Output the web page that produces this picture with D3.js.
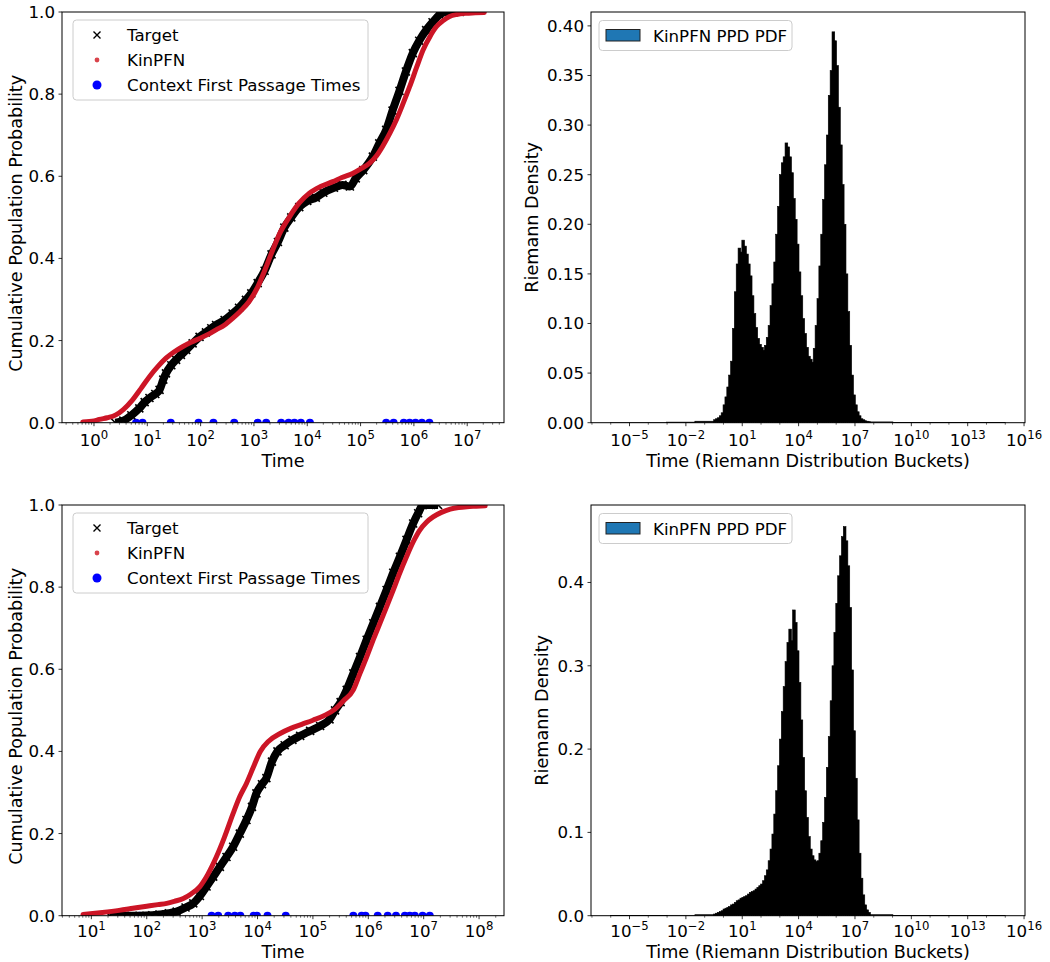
<!DOCTYPE html>
<html><head><meta charset="utf-8">
<script src="https://cdn.jsdelivr.net/npm/d3@7"></script>
<style>
body{margin:0;background:#fff}
svg{display:block}
text{font-family:"DejaVu Sans",Verdana,sans-serif;fill:#000}
</style>
</head><body>
<svg id="chart" width="1050" height="962"></svg>
<script>
// ===================== DATA =====================
// CDF panels: [log10(time), cumulative probability]
const tlTarget = [[0.40,0.0],[0.55,0.005],[0.70,0.018],[0.85,0.035],[0.95,0.05],[1.04,0.06],[1.15,0.07],[1.23,0.08],[1.30,0.105],[1.35,0.12],[1.45,0.14],[1.54,0.153],[1.63,0.165],[1.73,0.177],[1.85,0.193],[1.98,0.209],[2.10,0.22],[2.20,0.23],[2.29,0.238],[2.45,0.25],[2.60,0.266],[2.72,0.28],[2.85,0.299],[2.95,0.315],[3.07,0.34],[3.20,0.37],[3.33,0.41],[3.45,0.44],[3.57,0.475],[3.70,0.50],[3.85,0.525],[4.00,0.54],[4.16,0.548],[4.30,0.56],[4.50,0.572],[4.66,0.579],[4.80,0.575],[4.91,0.595],[5.05,0.615],[5.23,0.648],[5.35,0.68],[5.48,0.713],[5.60,0.76],[5.73,0.808],[5.85,0.855],[5.98,0.90],[6.10,0.93],[6.23,0.956],[6.35,0.975],[6.48,0.993],[6.60,1.0],[6.75,1.0],[6.86,1.0]];
const tlKinPFN = [[-0.21,0.002],[0.0,0.004],[0.10,0.008],[0.25,0.012],[0.41,0.019],[0.55,0.032],[0.72,0.055],[0.88,0.083],[1.04,0.112],[1.20,0.137],[1.35,0.157],[1.50,0.172],[1.66,0.185],[1.82,0.196],[1.98,0.205],[2.14,0.215],[2.29,0.226],[2.45,0.238],[2.60,0.254],[2.75,0.272],[2.91,0.295],[3.07,0.33],[3.20,0.37],[3.35,0.42],[3.50,0.465],[3.67,0.502],[3.85,0.535],[4.04,0.559],[4.25,0.575],[4.48,0.587],[4.65,0.597],[4.85,0.607],[5.00,0.618],[5.17,0.632],[5.30,0.65],[5.41,0.672],[5.55,0.705],[5.67,0.737],[5.80,0.778],[5.92,0.818],[6.05,0.865],[6.17,0.907],[6.30,0.94],[6.42,0.964],[6.55,0.979],[6.67,0.989],[6.80,0.994],[6.98,0.997],[7.15,0.998],[7.32,0.999]];
const tlContext = [0.79,0.91,1.44,1.96,2.24,2.63,3.07,3.23,3.51,3.65,3.76,3.88,4.05,5.48,5.62,5.81,5.92,6.03,6.15,6.29];

const blTarget = [[1.33,0.0],[1.60,0.0],[1.87,0.0],[2.10,0.001],[2.23,0.003],[2.40,0.006],[2.54,0.01],[2.70,0.02],[2.84,0.03],[2.96,0.048],[3.08,0.071],[3.20,0.095],[3.32,0.119],[3.44,0.143],[3.56,0.168],[3.68,0.20],[3.80,0.233],[3.90,0.265],[3.98,0.298],[4.08,0.32],[4.16,0.335],[4.26,0.375],[4.36,0.40],[4.49,0.415],[4.63,0.428],[4.77,0.438],[4.95,0.45],[5.13,0.462],[5.30,0.478],[5.40,0.50],[5.50,0.52],[5.61,0.55],[5.73,0.59],[5.85,0.63],[5.97,0.672],[6.09,0.712],[6.21,0.752],[6.33,0.793],[6.45,0.835],[6.57,0.874],[6.69,0.915],[6.81,0.955],[6.90,0.98],[6.99,1.0],[7.10,1.0],[7.26,1.0]];
const blKinPFN = [[0.85,0.003],[1.20,0.008],[1.50,0.013],[1.75,0.018],[2.00,0.023],[2.20,0.027],[2.36,0.030],[2.50,0.035],[2.66,0.042],[2.80,0.053],[2.96,0.071],[3.10,0.10],[3.26,0.144],[3.40,0.19],[3.56,0.249],[3.68,0.29],[3.80,0.322],[3.92,0.36],[4.05,0.40],[4.20,0.425],[4.40,0.443],[4.60,0.456],[4.80,0.466],[5.00,0.476],[5.20,0.487],[5.40,0.503],[5.55,0.523],[5.73,0.55],[5.85,0.59],[5.97,0.63],[6.09,0.672],[6.21,0.712],[6.33,0.752],[6.45,0.793],[6.57,0.835],[6.69,0.874],[6.81,0.91],[6.93,0.939],[7.05,0.958],[7.17,0.971],[7.32,0.982],[7.48,0.99],[7.63,0.994],[7.78,0.996],[7.95,0.997],[8.11,0.998]];
const blContext = [1.87,3.17,3.29,3.47,3.59,3.69,3.93,3.99,4.18,4.51,5.73,5.88,5.95,6.17,6.35,6.50,6.66,6.75,6.84,6.98,7.11];

// Riemann buckets: core buckets start at log10 = -0.5, width 0.1 decade
const coreStartLog = -0.5, coreStepLog = 0.1;
const trDensity = [
 0.003,0.004,0.005,0.007,0.010,0.018,0.026,0.036,0.048,0.062,
 0.095,0.132,0.160,0.176,0.172,0.184,0.178,0.170,0.160,0.148,
 0.128,0.110,0.096,0.085,0.079,0.076,0.073,0.078,0.086,0.098,
 0.118,0.140,0.162,0.190,0.218,0.250,0.262,0.268,0.282,0.278,
 0.268,0.252,0.226,0.205,0.180,0.152,0.128,0.105,0.090,0.076,
 0.067,0.064,0.061,0.075,0.098,0.125,0.158,0.190,0.225,0.260,
 0.290,0.330,0.355,0.394,0.385,0.360,0.318,0.280,0.240,0.200,
 0.150,0.112,0.078,0.048,0.028,0.018,0.011,0.007,0.004,0.003,
 0.002,0.0015,0.001];
const trTails = [[-6,-3,0.0002],[-3,-1.5,0.0006],[-1.5,-0.5,0.0015],[7.8,9,0.0008],[9,12,0.0003],[12,15,0.0001]];
const brDensity = [
 0.002,0.003,0.004,0.005,0.006,0.008,0.009,0.010,0.011,0.013,
 0.014,0.016,0.018,0.019,0.021,0.022,0.023,0.024,0.026,0.028,
 0.029,0.030,0.032,0.034,0.036,0.038,0.042,0.048,0.055,0.066,
 0.080,0.098,0.122,0.150,0.180,0.212,0.245,0.275,0.305,0.328,
 0.344,0.330,0.367,0.352,0.318,0.280,0.235,0.190,0.150,0.118,
 0.095,0.080,0.072,0.067,0.065,0.066,0.075,0.090,0.112,0.142,
 0.178,0.215,0.258,0.300,0.340,0.375,0.408,0.432,0.455,0.467,
 0.450,0.420,0.370,0.295,0.222,0.165,0.115,0.075,0.045,0.025,
 0.013,0.007,0.004];
const brTails = [[-6,-3,0.0002],[-3,-1.5,0.0005],[-1.5,-0.5,0.0012],[7.8,9,0.0012],[9,12,0.0003],[12,15,0.0001]];

// tick labels
const tlXExps = [0,1,2,3,4,5,6,7];
const blXExps = [1,2,3,4,5,6,7,8];
const histXExps = [-5,-2,1,4,7,10,13,16];
const cdfYTicks = [0,0.2,0.4,0.6,0.8,1.0];
const trYTicks = [0,0.05,0.10,0.15,0.20,0.25,0.30,0.35,0.40];
const brYTicks = [0,0.1,0.2,0.3,0.4];
const cdfLegend = ["Target","KinPFN","Context First Passage Times"];
const histLegend = "KinPFN PPD PDF";

// ===================== DRAWING =====================
const FS = 16.67, LFS = 17.6;
const svg = d3.select("#chart");
const defs = svg.append("defs");
const P = v => Math.pow(10, v);
const RED = "#cc1526", BLUE = "#0000ff";

function panel(o){
  const xs = d3.scaleLog().domain([P(o.xdom[0]), P(o.xdom[1])]).range([o.x0, o.x1]);
  const ys = d3.scaleLinear().domain(o.ydom).range([o.y1, o.y0]);
  defs.append("clipPath").attr("id", o.id).append("rect")
    .attr("x", o.x0).attr("y", o.y0).attr("width", o.x1 - o.x0).attr("height", o.y1 - o.y0);
  const g = svg.append("g");
  const plot = g.append("g").attr("clip-path", `url(#${o.id})`);
  return {xs, ys, g, plot};
}

function axes(o, a){
  const g = a.g;
  const lo = Math.floor(o.xdom[0]), hi = Math.ceil(o.xdom[1]);
  for (let e = lo; e <= hi; e++){
    const subs = o.minorDecades ? [1] : [2,3,4,5,6,7,8,9];
    subs.forEach(s => {
      const v = s * P(e);
      const lv = Math.log10(v);
      if (lv < o.xdom[0] || lv > o.xdom[1]) return;
      if (o.minorDecades && o.xExps.includes(e)) return;
      const x = a.xs(v);
      g.append("line").attr("x1", x).attr("x2", x).attr("y1", o.y1).attr("y2", o.y1 + 2)
        .attr("stroke", "#000").attr("stroke-width", 0.6);
    });
  }
  o.xExps.forEach(e => {
    const x = a.xs(P(e));
    g.append("line").attr("x1", x).attr("x2", x).attr("y1", o.y1).attr("y2", o.y1 + 3.5)
      .attr("stroke", "#000").attr("stroke-width", 0.8);
    const t = g.append("text").attr("x", x).attr("y", o.y1 + o.xTickDy).attr("text-anchor", "middle")
      .attr("font-size", FS);
    t.append("tspan").text("10");
    t.append("tspan").attr("dy", -7).attr("font-size", 11.7).text(e < 0 ? "\u2212" + (-e) : String(e));
  });
  o.yTicks.forEach(v => {
    const y = a.ys(v);
    g.append("line").attr("x1", o.x0 - 3.5).attr("x2", o.x0).attr("y1", y).attr("y2", y)
      .attr("stroke", "#000").attr("stroke-width", 0.8);
    g.append("text").attr("x", o.x0 - 7).attr("y", y).attr("dy", "0.36em").attr("text-anchor", "end")
      .attr("font-size", FS).text(d3.format(o.yFmt)(v));
  });
  g.append("text").attr("x", (o.x0 + o.x1) / 2).attr("y", o.y1 + o.xLabelDy).attr("text-anchor", "middle")
    .attr("font-size", LFS).text(o.xLabel);
  g.append("text").attr("transform", `translate(${o.yLabelX},${(o.y0 + o.y1) / 2 + o.yLabelShift}) rotate(-90)`)
    .attr("text-anchor", "middle").attr("font-size", LFS).text(o.yLabel);
  g.append("rect").attr("x", o.x0).attr("y", o.y0).attr("width", o.x1 - o.x0).attr("height", o.y1 - o.y0)
    .attr("fill", "none").attr("stroke", "#000").attr("stroke-width", 1);
}

function xMark(sel, size){
  const s = size / 2;
  return sel.append("path").attr("d", `M${-s},${-s}L${s},${s}M${-s},${s}L${s},${-s}`)
    .attr("stroke", "#000").attr("stroke-width", 1.6).attr("fill", "none");
}

function legendBox(g, x, y, w, h){
  g.append("rect").attr("x", x).attr("y", y).attr("width", w).attr("height", h).attr("rx", 3.5)
    .attr("fill", "#fff").attr("fill-opacity", 0.8).attr("stroke", "#cccccc").attr("stroke-width", 1);
}

function cdfPanel(o, target, kin, ctx){
  const a = panel(o);
  const line = d3.line().x(d => a.xs(P(d[0]))).y(d => a.ys(d[1])).curve(d3.curveMonotoneX);
  a.plot.selectAll("circle.ctx").data(ctx).join("circle").attr("class", "ctx")
    .attr("cx", d => a.xs(P(d))).attr("cy", a.ys(0)).attr("r", 4).attr("fill", BLUE);
  a.plot.append("path").attr("d", line(target)).attr("fill", "none").attr("stroke", "#000")
    .attr("stroke-width", 8).attr("stroke-linejoin", "round");
  target.forEach(d => {
    xMark(a.plot.append("g").attr("transform", `translate(${a.xs(P(d[0]))},${a.ys(d[1])})`), 8);
  });
  a.plot.append("path").attr("d", line(kin)).attr("fill", "none").attr("stroke", RED)
    .attr("stroke-width", 5).attr("stroke-linecap", "round").attr("stroke-linejoin", "round");
  axes(o, a);
  const lx = o.x0 + 11, ly = o.y0 + 8;
  legendBox(a.g, lx, ly, 295, 80);
  xMark(a.g.append("g").attr("transform", `translate(${lx + 24},${ly + 15})`), 7).attr("stroke-width", 1.4);
  a.g.append("circle").attr("cx", lx + 24).attr("cy", ly + 40).attr("r", 2.4).attr("fill", "#d9434b");
  a.g.append("circle").attr("cx", lx + 24).attr("cy", ly + 65).attr("r", 4.5).attr("fill", BLUE);
  cdfLegend.forEach((t, i) => {
    a.g.append("text").attr("x", lx + 54).attr("y", ly + 15 + 25 * i).attr("dy", "0.36em")
      .attr("font-size", FS).text(t);
  });
}

function histPanel(o, dens, tails){
  const a = panel(o);
  const bins = dens.map((d, i) => ({x0: coreStartLog + i * coreStepLog, x1: coreStartLog + (i + 1) * coreStepLog, y: d}))
    .concat(tails.map(t => ({x0: t[0], x1: t[1], y: t[2]})));
  a.plot.selectAll("rect.bar").data(bins).join("rect").attr("class", "bar")
    .attr("x", d => a.xs(P(d.x0)) - 0.4)
    .attr("width", d => a.xs(P(d.x1)) - a.xs(P(d.x0)) + 0.8)
    .attr("y", d => a.ys(d.y))
    .attr("height", d => a.ys(0) - a.ys(d.y))
    .attr("fill", "#000").attr("stroke", "#000").attr("stroke-width", 0.6);
  axes(o, a);
  const lx = o.x0 + 8, ly = o.y0 + 8.5;
  legendBox(a.g, lx, ly, 193, 30);
  a.g.append("rect").attr("x", lx + 7).attr("y", ly + 9).attr("width", 34).attr("height", 11.5)
    .attr("fill", "#1f77b4").attr("stroke", "#222").attr("stroke-width", 1);
  a.g.append("text").attr("x", lx + 54).attr("y", ly + 15).attr("dy", "0.36em").attr("font-size", FS).text(histLegend);
}

cdfPanel({id: "cTL", x0: 62, x1: 504, y0: 12, y1: 422.7, xdom: [-0.6, 7.69], ydom: [0, 1],
  xExps: tlXExps, yTicks: cdfYTicks, yFmt: ".1f", xLabel: "Time", xTickDy: 23.5, xLabelDy: 44.5,
  yLabel: "Cumulative Population Probability", yLabelX: 22, yLabelShift: 6}, tlTarget, tlKinPFN, tlContext);

cdfPanel({id: "cBL", x0: 62, x1: 504, y0: 505, y1: 915.7, xdom: [0.47, 8.45], ydom: [0, 1],
  xExps: blXExps, yTicks: cdfYTicks, yFmt: ".1f", xLabel: "Time", xTickDy: 21.5, xLabelDy: 42,
  yLabel: "Cumulative Population Probability", yLabelX: 22, yLabelShift: 6}, blTarget, blKinPFN, blContext);

histPanel({id: "cTR", x0: 591, x1: 1025, y0: 12, y1: 422.7, xdom: [-7.05, 16.05], ydom: [0, 0.414],
  xExps: histXExps, minorDecades: true, yTicks: trYTicks, yFmt: ".2f", xTickDy: 23.5, xLabelDy: 44.5,
  xLabel: "Time (Riemann Distribution Buckets)", yLabel: "Riemann Density", yLabelX: 538, yLabelShift: 0}, trDensity, trTails);

histPanel({id: "cBR", x0: 591, x1: 1025, y0: 505, y1: 915.7, xdom: [-7.05, 16.05], ydom: [0, 0.493],
  xExps: histXExps, minorDecades: true, yTicks: brYTicks, yFmt: ".1f", xTickDy: 21.5, xLabelDy: 42,
  xLabel: "Time (Riemann Distribution Buckets)", yLabel: "Riemann Density", yLabelX: 548, yLabelShift: 0}, brDensity, brTails);
</script>
</body></html>
